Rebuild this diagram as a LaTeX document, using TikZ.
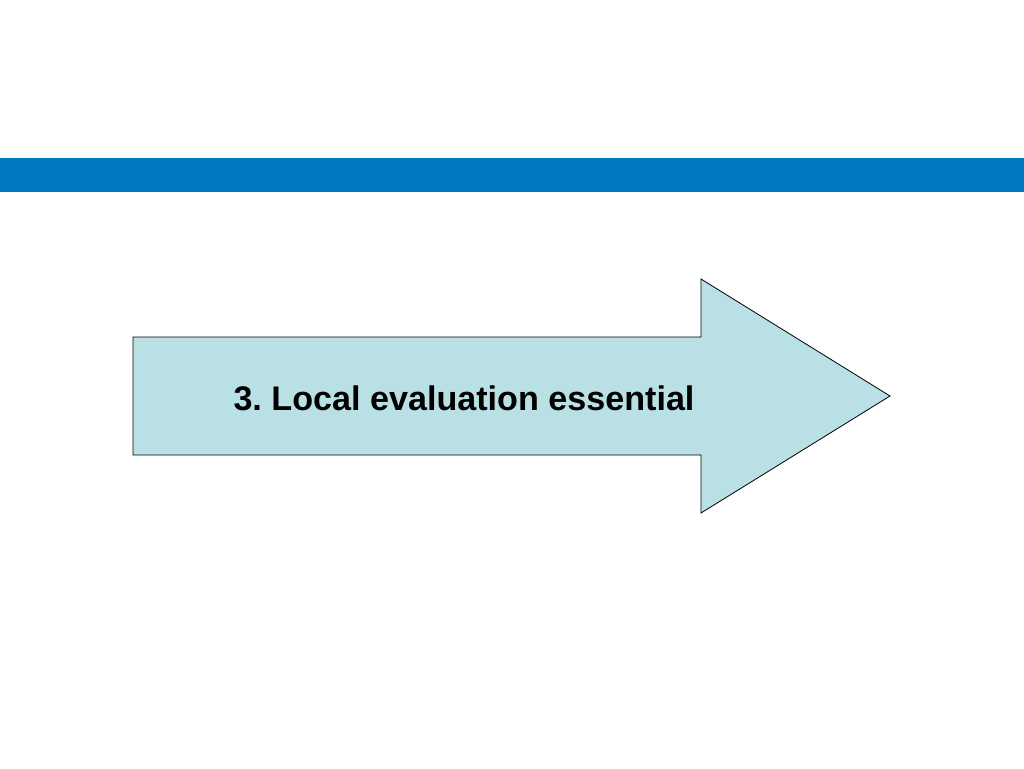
\documentclass[tikz,border=0pt]{standalone}
\usepackage{fontspec}
\setmainfont{Liberation Sans}
\frenchspacing
\definecolor{bandblue}{HTML}{0077C0}
\definecolor{arrowfill}{HTML}{B9E0E5}
\begin{document}
\begin{tikzpicture}[x=0.75pt,y=-0.75pt,
  arrowshape/.style={fill=arrowfill,draw=black,line width=0.6pt,line join=miter},
  label/.style={font=\bfseries\fontsize{25.6}{30}\selectfont,text=black,inner sep=0pt,anchor=base}]
\useasboundingbox (0,0) rectangle (1024,768);
\fill[white] (0,0) rectangle (1024,768);
\fill[bandblue] (0,158) rectangle (1024,192);
\draw[arrowshape] (133,337) -- (701,337) -- (701,279) -- (890,396) -- (701,513) -- (701,455) -- (133,455) -- cycle;
\node[label] (t) at (464,410) {3. Local evaluation essential};
\end{tikzpicture}
\end{document}
